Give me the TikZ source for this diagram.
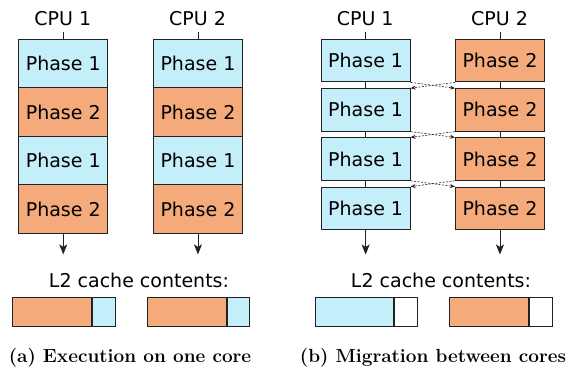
\documentclass[tikz,border=0pt]{standalone}
\usepackage{fontspec}
\newfontfamily\diagfont{DejaVu Sans}
\usetikzlibrary{arrows.meta,calc}
\definecolor{phaseblue}{HTML}{C5EEFB}
\definecolor{phaseorange}{HTML}{F4AA7A}
\definecolor{boxline}{HTML}{222222}
\tikzset{
  lbl/.style={font=\diagfont\fontsize{19}{22}\selectfont, inner sep=6pt},
  box/.style={draw=boxline, line width=0.9pt, minimum width=89pt, inner sep=0pt,
              anchor=north west, font=\diagfont\fontsize{19}{22}\selectfont},
  tallP1/.style={box, fill=phaseblue, minimum height=48.5pt},
  tallP2/.style={box, fill=phaseorange, minimum height=48.5pt},
  shortP1/.style={box, fill=phaseblue, minimum height=42.5pt},
  shortP2/.style={box, fill=phaseorange, minimum height=42.5pt},
  stem/.style={draw=boxline, line width=0.9pt},
  flow/.style={stem, -{Stealth[length=10pt,width=8pt,inset=2.5pt]}},
  swap/.style={draw=boxline, line width=0.6pt, dash pattern=on 2pt off 1.5pt,
               -{Stealth[length=5pt,width=4pt]}},
  cache/.style={draw=boxline, line width=0.9pt, minimum height=28.5pt, inner sep=0pt,
                anchor=north west},
  capt/.style={font=\rmfamily\bfseries\fontsize{19}{22}\selectfont, anchor=base, inner sep=0pt}
}
\begin{document}
\begin{tikzpicture}[x=1pt,y=-1pt]
\useasboundingbox (0,0) rectangle (566,369);

% ---------- (a) execution on one core ----------
\node[lbl] (cpuA1) at (62.8,19) {CPU 1};
\node[lbl] (cpuA2) at (197.5,19) {CPU 2};

\node[tallP1] (a11) at (18.3,39)    {Phase 1};
\node[tallP2] (a12) at (18.3,87.5)  {Phase 2};
\node[tallP1] (a13) at (18.3,136)   {Phase 1};
\node[tallP2] (a14) at (18.3,184.5) {Phase 2};

\node[tallP1] (a21) at (153,39)    {Phase 1};
\node[tallP2] (a22) at (153,87.5)  {Phase 2};
\node[tallP1] (a23) at (153,136)   {Phase 1};
\node[tallP2] (a24) at (153,184.5) {Phase 2};

\coordinate (endA1) at ($(a14.south)+(0,20.5)$);
\coordinate (endA2) at ($(a24.south)+(0,20.5)$);

\draw[stem] (a11.north) -- (a11.north |- cpuA1.south);
\draw[stem] (a21.north) -- (a21.north |- cpuA2.south);
\draw[flow] (a14.south) -- (endA1);
\draw[flow] (a24.south) -- (endA2);

\node[lbl] (l2A) at (139,280) {L2 cache contents:};
\node[cache, fill=phaseorange, minimum width=78.4pt] (cA1) at (12.3,297.3) {};
\node[cache, fill=phaseblue, minimum width=23.3pt] (cA1r) at (cA1.north east) {};
\node[cache, fill=phaseorange, minimum width=79pt] (cA2) at (146.7,297.3) {};
\node[cache, fill=phaseblue, minimum width=22.6pt] (cA2r) at (cA2.north east) {};

\node[capt] (capA) at (130,362) {(a) Execution on one core};

% ---------- (b) migration between cores ----------
\node[lbl] (cpuB1) at (365.2,19) {CPU 1};
\node[lbl] (cpuB2) at (499.5,19) {CPU 2};

\node[shortP1] (b11) at (320.7,39)    {Phase 1};
\node[shortP1] (b12) at (320.7,88.2)  {Phase 1};
\node[shortP1] (b13) at (320.7,137.4) {Phase 1};
\node[shortP1] (b14) at (320.7,186.6) {Phase 1};

\node[shortP2] (b21) at (455,39)    {Phase 2};
\node[shortP2] (b22) at (455,88.2)  {Phase 2};
\node[shortP2] (b23) at (455,137.4) {Phase 2};
\node[shortP2] (b24) at (455,186.6) {Phase 2};

\coordinate (endB1) at ($(b14.south)+(0,24.5)$);
\coordinate (endB2) at ($(b24.south)+(0,24.5)$);

% timeline pieces between the boxes, plus the migrations
\draw[stem] (b11.north |- cpuB1.south) -- (b11.north);
\draw[stem] (b21.north |- cpuB2.south) -- (b21.north);
\foreach \k/\n in {1/2,2/3,3/4}{
  \draw[stem] (b1\k.south) -- (b1\n.north);
  \draw[stem] (b2\k.south) -- (b2\n.north);
  \draw[swap] (b1\k.south east) -- (b2\n.north west);
  \draw[swap] (b2\k.south west) -- (b1\n.north east);
}
\draw[flow] (b14.south) -- (endB1);
\draw[flow] (b24.south) -- (endB2);

\node[lbl] (l2B) at (441,280) {L2 cache contents:};
\node[cache, fill=phaseblue, minimum width=78.4pt] (cB1) at (314.6,297.3) {};
\node[cache, fill=white, minimum width=23.3pt] (cB1r) at (cB1.north east) {};
\node[cache, fill=phaseorange, minimum width=79pt] (cB2) at (449,297.3) {};
\node[cache, fill=white, minimum width=22.6pt] (cB2r) at (cB2.north east) {};

\node[capt] (capB) at (433,362) {(b) Migration between cores};
\end{tikzpicture}
\end{document}
